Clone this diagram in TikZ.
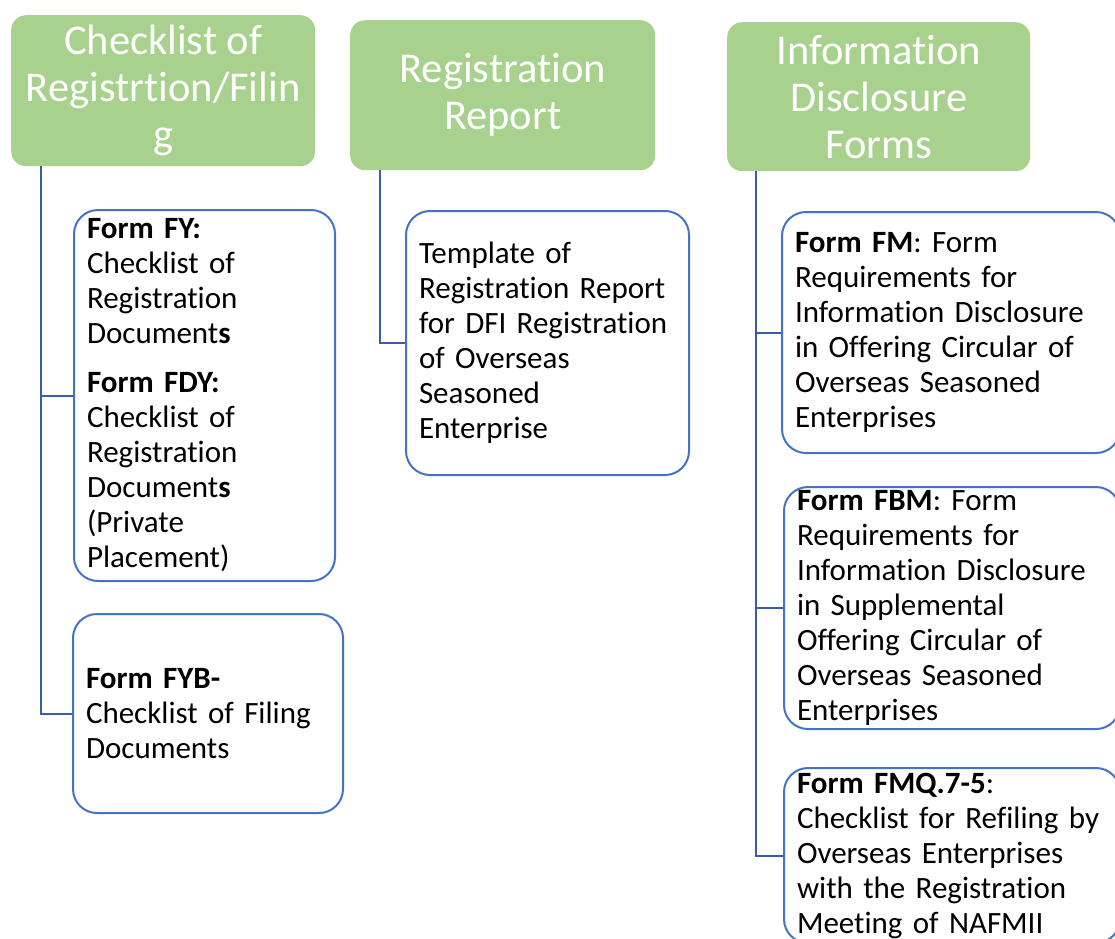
\documentclass[tikz,border=0pt]{standalone}
\usepackage{fontspec}
\setmainfont{Carlito}[Ligatures=NoCommon]
\usetikzlibrary{positioning}

\definecolor{hdrgreen}{HTML}{A9D18E}
\definecolor{boxblue}{HTML}{4472C4}
\definecolor{linkblue}{HTML}{3A5DA8}

\begin{document}
\begin{tikzpicture}[x=1pt,y=-1pt]
\tikzset{head/.style = {fill=hdrgreen, rounded corners=15pt, text=white, align=center, inner sep=0pt, font=\fontsize{42.5}{47}\selectfont, anchor=north west}}
\tikzset{form/.style = {draw=boxblue, line width=2pt, fill=white, rounded corners=24pt, align=left, inner xsep=13pt, inner ysep=0pt, font=\fontsize{31}{35}\selectfont, anchor=north west}}
\tikzset{link/.style = {draw=linkblue, line width=2pt}}
\clip (0,0) rectangle (1115,938);
% headers
\node[head, minimum width=304pt, minimum height=151pt] (h1) at (11,15) {Checklist of\\Registrtion/Filin\\g};
\node[head, minimum width=305pt, minimum height=150pt] (h2) at (350,20) {Registration\\Report};
\node[head, minimum width=303pt, minimum height=149pt] (h3) at (727,22) {Information\\Disclosure\\Forms};
% forms
\node[form, text width=235pt, minimum height=371pt] (fy) at (73,209)
  {\textbf{Form FY:}\\Checklist of\\Registration\\Document\textbf{s}\\[14pt]
   \textbf{Form FDY:}\\Checklist of\\Registration\\Document\textbf{s}\\(Private\\Placement)};
\node[form, text width=244pt, minimum height=199pt] (fyb) at (72,613)
  {\textbf{Form FYB-}\\Checklist of Filing\\Documents};
\node[form, text width=257pt, minimum height=264pt] (tpl) at (405,210)
  {Template of\\Registration Report\\for DFI Registration\\of Overseas\\Seasoned\\Enterprise};
\node[form, text width=312pt, minimum height=241pt] (fm) at (781,211)
  {\textbf{Form FM}: Form\\Requirements for\\Information Disclosure\\in Offering Circular of\\Overseas Seasoned\\Enterprises};
\node[form, text width=310pt, minimum height=242pt] (fbm) at (783,486)
  {\textbf{Form FBM}: Form\\Requirements for\\Information Disclosure\\in Supplemental\\Offering Circular of\\Overseas Seasoned\\Enterprises};
\node[form, text width=310pt, minimum height=175pt] (fmq) at (783,767)
  {\textbf{Form FMQ.7-5}:\\Checklist for Refiling by\\Overseas Enterprises\\with the Registration\\Meeting of NAFMII};
% links
\coordinate (t1) at ([xshift=30pt]h1.south west);
\coordinate (t2) at ([xshift=30pt]h2.south west);
\coordinate (t3) at ([xshift=29pt]h3.south west);
\draw[link] (t1) |- (fy.west);
\draw[link] (t1) |- (fyb.west);
\draw[link] (t2) |- (tpl.west);
\draw[link] (t3) |- (fm.west);
\draw[link] (t3) |- (fbm.west);
\draw[link] (t3) |- (fmq.west);
\end{tikzpicture}
\end{document}
